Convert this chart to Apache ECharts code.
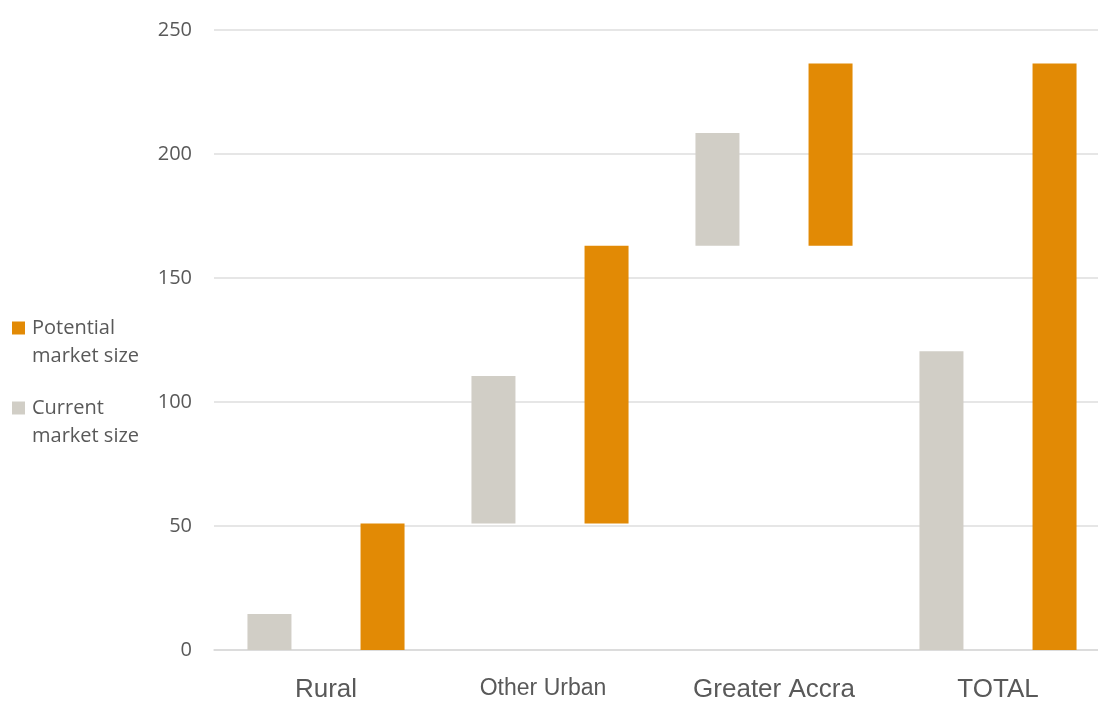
<!DOCTYPE html>
<html>
<head>
<meta charset="utf-8">
<script src="https://cdn.jsdelivr.net/npm/echarts@6/dist/echarts.min.js"></script>
<style>html,body{margin:0;padding:0;background:#fff;overflow:hidden;}#c{width:1110px;height:704px;}</style>
</head>
<body>
<div id="c"></div>
<script>
const categories = ['Rural', 'Other Urban', 'Greater Accra', 'TOTAL'];
const currentLow = [0, 51, 163, 0];
const currentHigh = [14.5, 110.5, 208.5, 120.5];
const potentialLow = [0, 51, 163, 0];
const potentialHigh = [51, 163, 236.5, 236.5];
const yTicks = [0, 50, 100, 150, 200, 250];

const currentSize = currentHigh.map((v, i) => +(v - currentLow[i]).toFixed(2));
const potentialSize = potentialHigh.map((v, i) => +(v - potentialLow[i]).toFixed(2));

const GRAY = '#d1cec6';
const ORANGE = '#e28a05';

const chart = echarts.init(document.getElementById('c'), null, {renderer: 'canvas'});
chart.setOption({
  animation: false,
  backgroundColor: '#ffffff',
  grid: {left: 214, right: 0, top: 30, bottom: 54, containLabel: false},
  legend: {
    orient: 'vertical', left: 7, top: 309,
    itemWidth: 13, itemHeight: 41, itemGap: 24,
    icon: 'path://M0,0h13v13h-13zM0,41',
    data: ['Potential market size', 'Current market size'],
    formatter: function (n) { return n.replace(' market', '\nmarket'); },
    textStyle: {color: '#595959', fontSize: 20, fontFamily: 'Open Sans', lineHeight: 28, padding: [0, 0, 0, 2]}
  },
  xAxis: {
    type: 'category', data: categories,
    axisLine: {show: true, lineStyle: {color: '#d9d9d9', width: 1.5}},
    axisTick: {show: false},
    axisLabel: {
      interval: 0, hideOverlap: false,
      color: '#595959', fontSize: 26, fontFamily: 'Liberation Sans', margin: 27,
      formatter: function (v) { return v === 'Other Urban' ? '{s|' + v + '}' : v; },
      rich: {s: {fontSize: 23, color: '#595959', fontFamily: 'Liberation Sans', padding: [0, 14, 0, 0]}}
    }
  },
  yAxis: {
    type: 'value', min: yTicks[0], max: yTicks[yTicks.length - 1], interval: 50,
    axisLine: {show: false}, axisTick: {show: false},
    splitLine: {lineStyle: {color: '#dedede', width: 1.5}},
    axisLabel: {color: '#595959', fontSize: 20, fontFamily: 'Open Sans', margin: 22}
  },
  series: [
    {name: 'currentBase', type: 'bar', stack: 'cur', data: currentLow,
     itemStyle: {color: 'transparent'}, barWidth: 44, barGap: '157%', silent: true},
    {name: 'Current market size', type: 'bar', stack: 'cur', data: currentSize,
     itemStyle: {color: GRAY}, barWidth: 44, barGap: '157%'},
    {name: 'potentialBase', type: 'bar', stack: 'pot', data: potentialLow,
     itemStyle: {color: 'transparent'}, barWidth: 44, barGap: '157%', silent: true},
    {name: 'Potential market size', type: 'bar', stack: 'pot', data: potentialSize,
     itemStyle: {color: ORANGE}, barWidth: 44, barGap: '157%'}
  ]
});
</script>
</body>
</html>
